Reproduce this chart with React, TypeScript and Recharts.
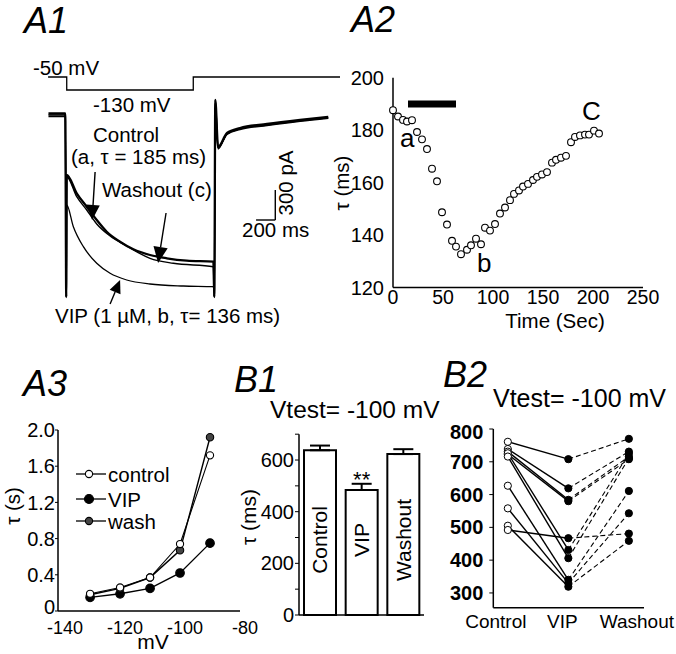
import React from 'react'
import {
  LineChart,
  Line,
  XAxis,
  YAxis,
  ScatterChart,
  Scatter,
  BarChart,
  Bar,
  ErrorBar,
  LabelList,
  ReferenceLine,
} from 'recharts'

const FONT = '"Liberation Sans", Arial, Helvetica, sans-serif'

// A1 voltage protocol (ms, mV)
const protoTime = [-194, 0, 0, 1316, 1316, 2842]
const protoVolt = [-50, -50, -130, -130, -50, -50]

// A1 current traces (ms, pA)
const ctrlTime = [-190, -15, -5, 0, 104, 208, 312, 416, 554, 693, 866, 1040, 1248, 1525, 1535, 1545, 1574, 1667, 1802, 2083, 2427, 2720]
const ctrlCurr = [15, 15, -1820, -600, -783, -917, -1050, -1167, -1267, -1343, -1400, -1433, -1457, -1467, -1820, 150, -320, -180, -130, -90, -50, -20]
const washTime = [-190, -15, -5, 0, 104, 208, 312, 451, 624, 866, 1109, 1525, 1535, 1545, 1574, 1667, 1802, 2083, 2427, 2720]
const washCurr = [0, 0, -1820, -617, -817, -950, -1090, -1210, -1310, -1433, -1483, -1517, -1820, 150, -330, -195, -145, -105, -62, -32]
const vipTime = [-190, -15, -5, 0, 69, 173, 312, 451, 624, 866, 1213, 1525, 1535, 1545, 1574, 1667, 1802, 2083, 2427, 2720]
const vipCurr = [-15, -15, -1820, -900, -1117, -1317, -1483, -1583, -1650, -1690, -1710, -1717, -1820, 150, -340, -190, -140, -100, -58, -28]

// A1 annotation arrows (tail -> tip, ms / pA) and scale bar
const arrowTail = [[295, -570], [1033, -980], [451, -1890]]
const arrowTip = [[264, -1050], [950, -1480], [555, -1650]]
const arrowHead = [15, 16, 13]
const scaleT = [1969, 2169]
const scaleI = [-1050, -750]

// A2 time course of tau
const a2Time = [0, 5, 10, 14, 19, 24, 29, 34, 39, 44, 49, 54, 59, 63, 68, 74, 78, 83, 88, 92, 97, 102, 107, 112, 117, 121, 126, 130, 135, 140, 144, 149, 154, 159, 163, 168, 173, 178, 182, 187, 192, 196, 201, 206]
const a2Tau = [187.6, 185.2, 183.9, 183.3, 183.8, 179.3, 176.5, 172.8, 165.3, 160.5, 148.7, 144, 137.8, 135.6, 132.7, 134.4, 136.1, 138.6, 136.5, 142.8, 141.7, 144.2, 148.2, 150.5, 153.3, 155.7, 157, 158.5, 159.5, 161, 162.2, 163.1, 164, 167.6, 168.7, 169.5, 170.2, 175.4, 177.4, 178, 178.3, 178.3, 179.8, 178.7]
const drugOn = [15, 63]
const drugLevel = 190

// A3 tau vs voltage
const a3Volt = [-130, -120, -110, -100, -90]
const a3Control = [0.19, 0.26, 0.37, 0.74, 1.72]
const a3VIP = [0.15, 0.19, 0.25, 0.42, 0.75]
const a3Wash = [0.18, 0.25, 0.37, 0.67, 1.92]

// B1 summary
const b1Cats = ['Control', 'VIP', 'Washout']
const b1Mean = [638, 484, 623]
const b1Err = [18, 24, 19]
const b1Sig = ['', '**', '']

// B2 individual cells
const b2Cats = ['Control', 'VIP', 'Washout']
const b2Control = [761, 739, 731, 723, 726, 716, 627, 558, 505, 492]
const b2VIP = [708, 619, 584, 580, 431, 406, 340, 330, 319, 467]
const b2Wash = [770, 731, 716, 708, 725, 711, 611, 543, 459, 481]
const b2LabelShift = [-12, -6, 8]

const toPts = (t: number[], v: number[]) => t.map((x, k) => ({ t: x, i: v[k] }))

const Box = ({ x, y, w, h, children }: any) => (
  <div style={{ position: 'absolute', left: x, top: y, width: w, height: h }}>{children}</div>
)

const arrowShape = (head: number) => (p: any) => {
  const { x1, y1, x2, y2 } = p
  const dx = x2 - x1
  const dy = y2 - y1
  const len = Math.hypot(dx, dy) || 1
  const ux = dx / len
  const uy = dy / len
  const bx = x2 - ux * head
  const by = y2 - uy * head
  const w = head * 0.45
  return (
    <g>
      <line x1={x1} y1={y1} x2={bx} y2={by} stroke="#000" strokeWidth={1.4} />
      <polygon
        points={`${x2},${y2} ${bx - uy * w},${by + ux * w} ${bx + uy * w},${by - ux * w}`}
        fill="#000"
      />
    </g>
  )
}

const tickStyle = { fill: '#000', fontSize: 20, fontFamily: FONT }
const axisStyle = { stroke: '#000', strokeWidth: 1.5 }

function PanelA1() {
  return (
    <>
      <Box x={40} y={62} w={300} h={36}>
        <LineChart width={300} height={36} margin={{ top: 0, right: 0, bottom: 0, left: 0 }}>
          <XAxis type="number" dataKey="t" domain={[-278, 2842]} hide allowDataOverflow />
          <YAxis type="number" domain={[-179, 42]} hide allowDataOverflow />
          <Line
            data={protoTime.map((t, k) => ({ t, v: protoVolt[k] }))}
            dataKey="v"
            type="linear"
            stroke="#000"
            strokeWidth={1.3}
            dot={false}
            isAnimationActive={false}
          />
        </LineChart>
      </Box>
      <Box x={40} y={95} w={300} h={210}>
        <LineChart width={300} height={210} margin={{ top: 0, right: 0, bottom: 0, left: 0 }}>
          <XAxis type="number" dataKey="t" domain={[-278, 2842]} hide allowDataOverflow />
          <YAxis type="number" domain={[-1900, 200]} hide allowDataOverflow />
          <Line data={toPts(vipTime, vipCurr)} dataKey="i" type="monotone" stroke="#000" strokeWidth={1.3} dot={false} isAnimationActive={false} />
          <Line data={toPts(washTime, washCurr)} dataKey="i" type="monotone" stroke="#000" strokeWidth={1.4} dot={false} isAnimationActive={false} />
          <Line data={toPts(ctrlTime, ctrlCurr)} dataKey="i" type="monotone" stroke="#000" strokeWidth={2.3} dot={false} isAnimationActive={false} />
          <ReferenceLine segment={[{ x: scaleT[0], y: scaleI[0] }, { x: scaleT[1], y: scaleI[0] }]} stroke="#000" strokeWidth={1.4} />
          <ReferenceLine segment={[{ x: scaleT[1], y: scaleI[0] }, { x: scaleT[1], y: scaleI[1] }]} stroke="#000" strokeWidth={1.4} />
          {arrowTail.map((a, k) => (
            <ReferenceLine
              key={k}
              segment={[{ x: a[0], y: a[1] }, { x: arrowTip[k][0], y: arrowTip[k][1] }]}
              shape={arrowShape(arrowHead[k])}
            />
          ))}
        </LineChart>
      </Box>
    </>
  )
}

function PanelA2() {
  const pts = a2Time.map((t, k) => ({ t, tau: a2Tau[k] }))
  return (
    <Box x={340} y={60} w={320} h={260}>
      <ScatterChart width={320} height={260} margin={{ top: 17.7, right: 17, bottom: 2.5, left: 8 }}>
        <XAxis
          type="number"
          dataKey="t"
          domain={[0, 250]}
          ticks={[0, 50, 100, 150, 200, 250]}
          height={30}
          tickLine={false}
          tickSize={2}
          tickMargin={1}
          axisLine={axisStyle}
          tick={{ ...tickStyle, fontSize: 19.5 }}
        />
        <YAxis
          type="number"
          dataKey="tau"
          domain={[120, 200]}
          ticks={[120, 140, 160, 180, 200]}
          width={45}
          tickLine={false}
          tickSize={6}
          tickMargin={3}
          axisLine={axisStyle}
          tick={tickStyle}
        />
        <ReferenceLine
          segment={[{ x: drugOn[0], y: drugLevel }, { x: drugOn[1], y: drugLevel }]}
          stroke="#000"
          strokeWidth={7}
        />
        <Scatter
          data={pts}
          isAnimationActive={false}
          shape={(p: any) => <circle cx={p.cx} cy={p.cy} r={3.4} fill="#fff" stroke="#000" strokeWidth={1.1} />}
        />
      </ScatterChart>
    </Box>
  )
}

const a3Marker = (fill: string, r: number) => (p: any) =>
  p.cy == null ? <g key={`${p.dataKey}-${p.index}`} /> : (
    <circle key={`${p.dataKey}-${p.index}`} cx={p.cx} cy={p.cy} r={r} fill={fill} stroke="#000" strokeWidth={1.1} />
  )

const A3YTick = (p: any) => {
  const v = p.payload.value
  return (
    <text
      x={p.x}
      y={p.y + (v === 0 ? -4 : 0)}
      dy="0.355em"
      textAnchor="end"
      fontSize={20}
      fontFamily={FONT}
      fill="#000"
    >
      {v === 0 ? '0' : v.toFixed(1)}
    </text>
  )
}

function PanelA3() {
  const rows = a3Volt.map((mv, k) => ({ mv, control: a3Control[k], vip: a3VIP[k], wash: a3Wash[k] }))
  return (
    <Box x={0} y={420} w={260} h={235}>
      <LineChart width={260} height={235} data={rows} margin={{ top: 10, right: 20, bottom: 14, left: 18 }}>
        <XAxis
          type="number"
          dataKey="mv"
          domain={[-140.7, -80]}
          ticks={[-140, -120, -100, -80]}
          height={30}
          tickLine={false}
          tickSize={4}
          tickMargin={6}
          axisLine={axisStyle}
          tick={{ ...tickStyle, fontSize: 18, dx: 5 }}
        />
        <YAxis
          type="number"
          domain={[0, 2]}
          ticks={[0, 0.4, 0.8, 1.2, 1.6, 2.0]}
          width={40}
          tickSize={3}
          tickMargin={0}
          tickLine={{ stroke: '#000' }}
          axisLine={axisStyle}
          tick={<A3YTick />}
        />
        <Line dataKey="vip" stroke="#000" strokeWidth={1.4} type="linear" dot={a3Marker('#000', 4.3)} isAnimationActive={false} />
        <Line dataKey="wash" stroke="#000" strokeWidth={1.4} type="linear" dot={a3Marker('#444', 3.7)} isAnimationActive={false} />
        <Line dataKey="control" stroke="#000" strokeWidth={1.1} type="linear" dot={a3Marker('#fff', 3.6)} isAnimationActive={false} />
      </LineChart>
    </Box>
  )
}

function PanelB1() {
  const rows = b1Cats.map((name, k) => ({ name, mean: b1Mean[k], err: [0, b1Err[k]], sig: b1Sig[k] }))
  return (
    <Box x={240} y={425} w={200} h={215}>
      <BarChart width={200} height={215} data={rows} margin={{ top: 9.2, right: 16, bottom: 15, left: 14 }}>
        <XAxis dataKey="name" height={10} tick={false} tickLine={false} axisLine={axisStyle} />
        <YAxis
          type="number"
          domain={[0, 700]}
          ticks={[0, 100, 200, 300, 400, 500, 600, 700]}
          tickFormatter={(v: number) => (v % 200 === 0 ? String(v) : '')}
          width={45}
          tickSize={4}
          tickMargin={1}
          tickLine={{ stroke: '#000' }}
          axisLine={axisStyle}
          tick={tickStyle}
        />
        <Bar dataKey="mean" barSize={32} fill="#fff" stroke="#000" strokeWidth={2} isAnimationActive={false}>
          <ErrorBar dataKey="err" width={10} stroke="#000" strokeWidth={2} direction="y" />
          <LabelList
            dataKey="name"
            content={(p: any) => {
              const cx = p.x + p.width / 2
              const cy = p.y + p.height - 75
              return (
                <text
                  x={cx}
                  y={cy}
                  dy="0.35em"
                  textAnchor="middle"
                  transform={`rotate(-90, ${cx}, ${cy})`}
                  fontSize={21}
                  fontFamily={FONT}
                  fill="#000"
                >
                  {p.value}
                </text>
              )
            }}
          />
          <LabelList
            dataKey="sig"
            content={(p: any) =>
              p.value ? (
                <text x={p.x + p.width / 2} y={p.y - 3} textAnchor="middle" fontSize={22} fontFamily={FONT} fill="#000">
                  {p.value}
                </text>
              ) : null
            }
          />
        </Bar>
      </BarChart>
    </Box>
  )
}

const B2Tick = (p: any) => {
  const k = p.payload.value
  return (
    <text
      x={p.x + b2LabelShift[k]}
      y={p.y}
      dy="0.71em"
      textAnchor="middle"
      fontSize={19}
      fontFamily={FONT}
      fill="#000"
    >
      {b2Cats[k]}
    </text>
  )
}

function PanelB2() {
  const rows = [0, 1, 2].map((x) => {
    const r: any = { x }
    b2Control.forEach((c, k) => {
      r['s' + k] = x === 0 ? c : x === 1 ? b2VIP[k] : null
      r['d' + k] = x === 0 ? null : x === 1 ? b2VIP[k] : b2Wash[k]
    })
    return r
  })
  const solidDot = (p: any) =>
    p.cy == null ? <g key={`${p.dataKey}-${p.index}`} /> : (
      <circle key={`${p.dataKey}-${p.index}`} cx={p.cx} cy={p.cy} r={3.6} fill={p.payload.x === 0 ? '#fff' : '#000'} stroke="#000" strokeWidth={1} />
    )
  const dashDot = (p: any) =>
    p.cy == null || p.payload.x !== 2 ? <g key={`${p.dataKey}-${p.index}`} /> : (
      <circle key={`${p.dataKey}-${p.index}`} cx={p.cx} cy={p.cy} r={3.6} fill="#000" stroke="#000" strokeWidth={1} />
    )
  return (
    <Box x={440} y={420} w={236} h={234}>
      <LineChart width={236} height={234} data={rows} margin={{ top: 9, right: 32, bottom: 16.3, left: 8.3 }}>
        <XAxis
          type="number"
          dataKey="x"
          domain={[-0.24, 2.25]}
          ticks={[0, 1, 2]}
          height={30}
          tickLine={false}
          tickSize={4}
          tickMargin={3}
          axisLine={axisStyle}
          tick={<B2Tick />}
        />
        <YAxis
          type="number"
          domain={[255, 800]}
          ticks={[300, 350, 400, 450, 500, 550, 600, 650, 700, 750, 800]}
          tickFormatter={(v: number) => (v % 100 === 0 ? String(v) : '')}
          width={45}
          tickSize={4}
          tickMargin={6}
          tickLine={{ stroke: '#000' }}
          axisLine={axisStyle}
          tick={{ ...tickStyle, fontWeight: 'bold' }}
        />
        {b2Control.map((_, k) => (
          <Line key={'d' + k} dataKey={'d' + k} stroke="#000" strokeWidth={1.1} strokeDasharray="5 3" dot={dashDot} type="linear" isAnimationActive={false} />
        ))}
        {b2Control.map((_, k) => (
          <Line key={'s' + k} dataKey={'s' + k} stroke="#000" strokeWidth={1.4} dot={solidDot} type="linear" isAnimationActive={false} />
        ))}
      </LineChart>
    </Box>
  )
}

const T = ({ x, y, size = 20.5, italic, anchor = 'start', rot, children }: any) => (
  <text
    x={x}
    y={y}
    fontSize={size}
    fontFamily={FONT}
    fontStyle={italic ? 'italic' : 'normal'}
    textAnchor={anchor}
    transform={rot ? `rotate(-90, ${x}, ${y})` : undefined}
    fill="#000"
  >
    {children}
  </text>
)

function Overlay() {
  const legend = [
    { label: 'control', fill: '#fff', r: 3.6, y: 474 },
    { label: 'VIP', fill: '#000', r: 4.5, y: 499 },
    { label: 'wash', fill: '#444', r: 3.6, y: 521 },
  ]
  return (
    <svg width={676} height={654} style={{ position: 'absolute', left: 0, top: 0, pointerEvents: 'none' }}>
      {/* A1 */}
      <T x={24} y={33} size={36} italic>A1</T>
      <T x={33} y={75}>-50 mV</T>
      <T x={93} y={112}>-130 mV</T>
      <T x={93} y={142}>Control</T>
      <T x={71} y={164}>(a, τ = 185 ms)</T>
      <T x={102} y={197}>Washout (c)</T>
      <T x={55} y={323}>VIP (1 µM, b, τ= 136 ms)</T>
      <T x={293} y={183} anchor="middle" rot>300 pA</T>
      <T x={242} y={237}>200 ms</T>
      {/* A2 */}
      <T x={351} y={32} size={36} italic>A2</T>
      <T x={400} y={147} size={26}>a</T>
      <T x={477} y={272} size={26}>b</T>
      <T x={582} y={120} size={26}>C</T>
      <T x={349} y={183} anchor="middle" rot>τ (ms)</T>
      <T x={555} y={328} size={20.5} anchor="middle">Time (Sec)</T>
      {/* A3 */}
      <T x={23} y={396} size={36} italic>A3</T>
      <T x={20} y={506} anchor="middle" rot>τ (s)</T>
      <T x={153} y={649} size={21} anchor="middle">mV</T>
      {legend.map((l) => (
        <g key={l.label}>
          <line x1={76} x2={106} y1={l.y} y2={l.y} stroke="#000" strokeWidth={1.3} />
          <circle cx={89} cy={l.y} r={l.r} fill={l.fill} stroke="#000" strokeWidth={1.1} />
          <T x={108} y={l.y + 7.5}>{l.label}</T>
        </g>
      ))}
      {/* B1 */}
      <T x={234} y={392} size={36} italic>B1</T>
      <T x={270} y={418} size={24.5}>Vtest= -100 mV</T>
      <T x={256} y={517} size={21} anchor="middle" rot>τ (ms)</T>
      {/* B2 */}
      <T x={443} y={387} size={36} italic>B2</T>
      <T x={493} y={407} size={25}>Vtest= -100 mV</T>
    </svg>
  )
}

export default function App() {
  return (
    <div style={{ position: 'absolute', left: 0, top: 0, width: 676, height: 654, background: '#fff', overflow: 'hidden', fontFamily: FONT }}>
      <PanelA1 />
      <PanelA2 />
      <PanelA3 />
      <PanelB1 />
      <PanelB2 />
      <Overlay />
    </div>
  )
}
